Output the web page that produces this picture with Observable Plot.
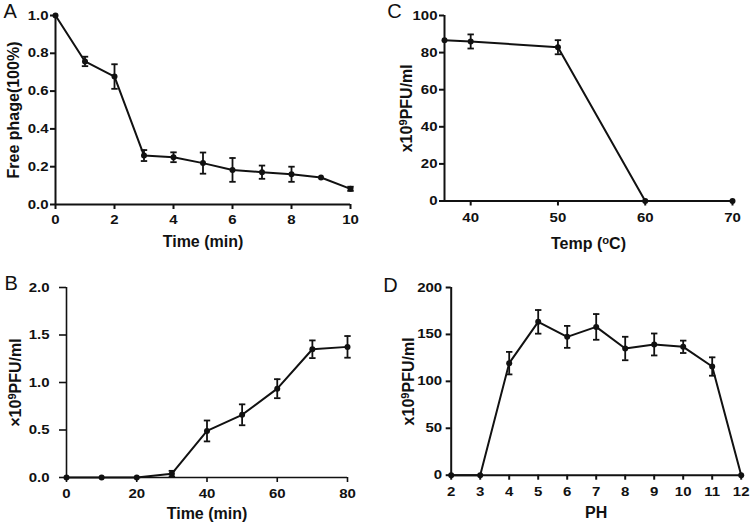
<!DOCTYPE html>
<html>
<head>
<meta charset="utf-8">
<script src="https://cdn.jsdelivr.net/npm/d3@7"></script>
<script src="https://cdn.jsdelivr.net/npm/@observablehq/plot@0.6"></script>
<style>
  html, body { margin: 0; padding: 0; background: #fff; }
  #wrap { position: relative; width: 750px; height: 524px; overflow: hidden; }
  .panel { position: absolute; }
  .panel svg { overflow: visible; }
</style>
</head>
<body>
<div id="wrap">
  <div class="panel" id="pA" style="left:0px;top:0px"></div>
  <div class="panel" id="pC" style="left:375px;top:0px"></div>
  <div class="panel" id="pB" style="left:0px;top:262px"></div>
  <div class="panel" id="pD" style="left:375px;top:262px"></div>
</div>
<script>
// Panel A: adsorption
const timeA = [0, 1, 2, 3, 4, 5, 6, 7, 8, 9, 10];
const freeA = [1.0, 0.757, 0.677, 0.259, 0.25, 0.219, 0.183, 0.171, 0.16, 0.143, 0.083];
const errA  = [0, 0.025, 0.065, 0.029, 0.026, 0.056, 0.063, 0.035, 0.04, 0, 0.011];
const ticksAx = [0, 2, 4, 6, 8, 10];
const ticksAy = [0, 0.2, 0.4, 0.6, 0.8, 1.0];

// Panel B: one-step growth
const timeB = [0, 10, 20, 30, 40, 50, 60, 70, 80];
const pfuB  = [0, 0, 0, 0.04, 0.49, 0.66, 0.935, 1.35, 1.375];
const errB  = [0, 0, 0, 0.03, 0.11, 0.11, 0.10, 0.093, 0.114];
const ticksBx = [0, 20, 40, 60, 80];
const ticksBy = [0, 0.5, 1.0, 1.5, 2.0];

// Panel C: temperature stability
const tempC = [37, 40, 50, 60, 70];
const pfuC  = [86.7, 86.0, 82.9, 0, 0];
const errC  = [0, 3.8, 3.8, 0, 0];
const ticksCx = [40, 50, 60, 70];
const ticksCy = [0, 20, 40, 60, 80, 100];

// Panel D: pH stability
const phD  = [2, 3, 4, 5, 6, 7, 8, 9, 10, 11, 12];
const pfuD = [0, 0, 119.4, 163.4, 147.4, 158, 135, 139.3, 136.8, 115.8, 0];
const errD = [0, 0, 12, 12.6, 11.7, 13.7, 12.5, 11.7, 6.6, 9.8, 0];
const ticksDx = [2, 3, 4, 5, 6, 7, 8, 9, 10, 11, 12];
const ticksDy = [0, 50, 100, 150, 200];

const FONT = "'Liberation Sans', Arial, Helvetica, sans-serif";
const TICK_FS = 15;
const LABEL_FS = 16;
const TICK_SQUASH = 0.84;

const capSymbol = {
  draw(ctx, size) {
    const r = Math.sqrt(size / Math.PI);
    ctx.moveTo(-r, 0);
    ctx.lineTo(r, 0);
  }
};

// turn "pre^sup^post" label text into tspans with a real superscript
function superscript(svg) {
  svg.querySelectorAll("text").forEach(t => {
    const s = t.textContent;
    const m = s.match(/^(.*)\^(.+)\^(.*)$/);
    if (!m) return;
    const ns = "http://www.w3.org/2000/svg";
    const target = t.querySelector("tspan") || t;
    target.textContent = "";
    const a = document.createElementNS(ns, "tspan"); a.textContent = m[1];
    const b = document.createElementNS(ns, "tspan"); b.textContent = m[2];
    b.setAttribute("dy", "-0.45em"); b.setAttribute("font-size", "0.7em");
    const c = document.createElementNS(ns, "tspan"); c.textContent = m[3];
    c.setAttribute("dy", "0.315em");
    target.append(a, b, c);
  });
}

// slightly flatten tick-label glyphs (wide, low bold digits of the original)
function squashTicks(svg) {
  svg.querySelectorAll("g[aria-label='x-axis tick label'] text, g[aria-label='y-axis tick label'] text").forEach(t => {
    const isX = t.parentNode.getAttribute("aria-label").startsWith("x");
    const bb = t.getBBox();
    const cx = bb.x + bb.width / 2;
    const cy = isX ? bb.y + bb.height * 0.2 : bb.y + bb.height * 0.55;
    const prev = t.getAttribute("transform") || "";
    t.setAttribute("transform", `${prev} translate(${cx},${cy}) scale(1,${TICK_SQUASH}) translate(${-cx},${-cy})`);
  });
}

function panel(cfg) {
  const rows = cfg.xs.map((x, i) => ({x, y: cfg.ys[i], e: cfg.es[i]}));
  const errRows = rows.filter(d => d.e > 0);
  const caps = errRows.flatMap(d => [{x: d.x, y: d.y + d.e}, {x: d.x, y: d.y - d.e}]);
  const [x0, x1] = cfg.xDomain;
  const [y0, y1] = cfg.yDomain;
  const svg = Plot.plot({
    width: 375,
    height: 262,
    marginLeft: cfg.m[0],
    marginTop: cfg.m[1],
    marginRight: cfg.m[2],
    marginBottom: cfg.m[3],
    style: {fontFamily: FONT, fontSize: TICK_FS + "px", fontWeight: "bold", color: "#111", background: "transparent", overflow: "visible"},
    x: {domain: cfg.xDomain},
    y: {domain: cfg.yDomain},
    marks: [
      Plot.axisX({ticks: cfg.xTicks, tickSize: cfg.xTickSize, tickPadding: cfg.xPad, strokeWidth: cfg.axisW, tickFormat: cfg.xFormat, label: null, fontWeight: "bold", fontSize: TICK_FS}),
      Plot.axisY({ticks: cfg.yTicks, tickSize: cfg.yTickSize, tickPadding: cfg.yPad, strokeWidth: cfg.axisW, tickFormat: cfg.yFormat, label: null, fontWeight: "bold", fontSize: TICK_FS}),
      Plot.ruleY([y0], {x1: x0, x2: x1, strokeWidth: cfg.axisW, stroke: "#111"}),
      Plot.ruleX([x0], {y1: y0, y2: y1, strokeWidth: cfg.axisW, stroke: "#111"}),
      Plot.line(rows, {x: "x", y: "y", stroke: "#111", strokeWidth: 2}),
      Plot.ruleX(errRows, {x: "x", y1: d => d.y - d.e, y2: d => d.y + d.e, stroke: "#111", strokeWidth: 1.8}),
      Plot.dot(caps, {x: "x", y: "y", symbol: capSymbol, r: 3.2, stroke: "#111", strokeWidth: 1.8, fill: "none"}),
      Plot.dot(rows, {x: "x", y: "y", r: 3, fill: "#111", stroke: "none"}),
      Plot.text([cfg.xLabel], {frameAnchor: "bottom", dy: cfg.xLabelDy, text: d => d, fontSize: LABEL_FS, fontWeight: "bold", lineAnchor: "middle", fill: "#111"}),
      Plot.text([cfg.yLabel], {frameAnchor: "left", dx: cfg.yLabelDx, rotate: -90, textAnchor: "middle", lineAnchor: "middle", text: d => d, fontSize: LABEL_FS, fontWeight: "bold", fill: "#111"}),
      Plot.text([cfg.letter], {frameAnchor: "top-left", dx: cfg.letterDx, dy: cfg.letterDy, textAnchor: "start", lineAnchor: "middle", text: d => d, fontSize: 20, fontWeight: "normal", fill: "#111"})
    ]
  });
  superscript(svg);
  return svg;
}

function mount(id, cfg) {
  const svg = panel(cfg);
  document.getElementById(id).append(svg);
  squashTicks(svg);
}

mount("pA", {
  xs: timeA, ys: freeA, es: errA,
  xDomain: [0, 10], yDomain: [0, 1],
  xTicks: ticksAx, yTicks: ticksAy,
  xFormat: d3.format("d"), yFormat: d3.format(".1f"),
  m: [55, 15, 25, 58],
  xTickSize: 5, xPad: 6, yTickSize: 5, yPad: 2, axisW: 2,
  xLabel: "Time (min)", xLabelDy: 37.7,
  yLabel: "Free phage(100%)", yLabelDx: -42,
  letter: "A", letterDx: -52, letterDy: -3.5
});

mount("pB", {
  xs: timeB, ys: pfuB, es: errB,
  xDomain: [0, 80], yDomain: [0, 2],
  xTicks: ticksBx, yTicks: ticksBy,
  xFormat: d3.format("d"), yFormat: d3.format(".1f"),
  m: [66, 25, 28, 47],
  xTickSize: 5, xPad: 7, yTickSize: 7, yPad: 10, axisW: 1.6,
  xLabel: "Time (min)", xLabelDy: 36.7,
  yLabel: "×10^9^PFU/ml", yLabelDx: -51,
  letter: "B", letterDx: -62, letterDy: -4
});

mount("pC", {
  xs: tempC, ys: pfuC, es: errC,
  xDomain: [37, 70], yDomain: [0, 100],
  xTicks: ticksCx, yTicks: ticksCy,
  xFormat: d3.format("d"), yFormat: d3.format("d"),
  m: [69, 15, 18, 61.5],
  xTickSize: 5, xPad: 7, yTickSize: 5, yPad: 2, axisW: 2,
  xLabel: "Temp (^o^C)", xLabelDy: 42.5,
  yLabel: "x10^9^PFU/ml", yLabelDx: -37.3,
  letter: "C", letterDx: -57.3, letterDy: -4
});

mount("pD", {
  xs: phD, ys: pfuD, es: errD,
  xDomain: [2, 12], yDomain: [0, 200],
  xTicks: ticksDx, yTicks: ticksDy,
  xFormat: d3.format("d"), yFormat: d3.format("d"),
  m: [75.7, 25, 9.3, 49.3],
  xTickSize: 5, xPad: 7, yTickSize: 5, yPad: 4, axisW: 2,
  xLabel: "PH", xLabelDy: 38,
  yLabel: "x10^9^PFU/ml", yLabelDx: -42.4,
  letter: "D", letterDx: -68, letterDy: -2
});
</script>
</body>
</html>
